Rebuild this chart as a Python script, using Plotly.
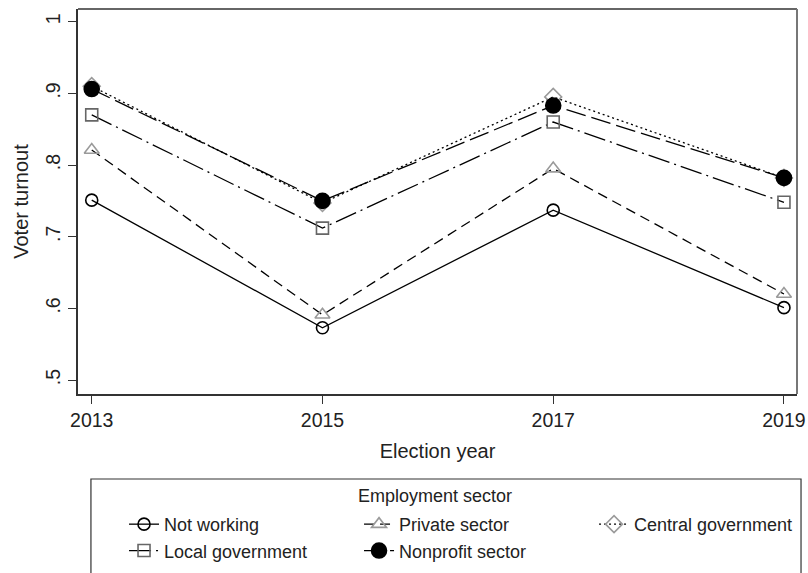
import plotly.graph_objects as go

years = [2013, 2015, 2017, 2019]
series_names = ["Not working", "Private sector", "Central government", "Local government", "Nonprofit sector"]
not_working = [0.751, 0.573, 0.737, 0.601]
private_sector = [0.821, 0.591, 0.795, 0.620]
central_gov = [0.910, 0.747, 0.895, 0.782]
local_gov = [0.870, 0.712, 0.860, 0.748]
nonprofit = [0.906, 0.750, 0.883, 0.782]
y_tick_vals = [0.5, 0.6, 0.7, 0.8, 0.9, 1.0]
y_tick_text = [".5", ".6", ".7", ".8", ".9", "1"]

FONT = "Liberation Sans, Arial, sans-serif"
TXT = "#222222"

styles = [
    dict(dash="solid", symbol="circle-open", mcolor="#000000", msize=12),
    dict(dash="10px,6px", symbol="triangle-up-open", mcolor="#9a9a9a", msize=13),
    dict(dash="2px,3px", symbol="diamond-open", mcolor="#9a9a9a", msize=13),
    dict(dash="22px,5px,2px,5px", symbol="square-open", mcolor="#666666", msize=12),
    dict(dash="20px,6px", symbol="circle", mcolor="#000000", msize=15),
]
values = [not_working, private_sector, central_gov, local_gov, nonprofit]

fig = go.Figure()
for name, vals, st in zip(series_names, values, styles):
    fig.add_trace(go.Scatter(
        x=years, y=vals, name=name, mode="lines+markers",
        line=dict(color="#000000", width=1.3, dash=st["dash"]),
        marker=dict(symbol=st["symbol"], size=st["msize"], color=st["mcolor"],
                    line=dict(color=st["mcolor"], width=1.6)),
    ))

fig.update_layout(
    width=808, height=573,
    margin=dict(l=78, r=11, t=9, b=179),
    paper_bgcolor="white", plot_bgcolor="white",
    font=dict(family=FONT, size=18, color=TXT),
    showlegend=True,
    legend=dict(
        orientation="h", xref="container", yref="container",
        x=0.1535, xanchor="left", y=0.117, yanchor="top",
        entrywidth=190, entrywidthmode="pixels",
        font=dict(family=FONT, size=18, color=TXT),
        bgcolor="rgba(0,0,0,0)", borderwidth=0,
    ),
    xaxis=dict(
        range=[2012.881, 2019.113], tickmode="array", tickvals=years,
        ticks="outside", ticklen=8, tickcolor="#333333", tickwidth=1.2,
        showline=True, linecolor="#333333", linewidth=2, showgrid=False, zeroline=False,
        automargin=False,
        tickfont=dict(family=FONT, size=19.5, color=TXT),
        title=dict(text="Election year", font=dict(family=FONT, size=20, color=TXT), standoff=14),
    ),
    yaxis=dict(
        range=[0.4805, 1.0177], tickmode="array", tickvals=y_tick_vals, ticktext=y_tick_text,
        tickangle=-90,
        ticks="outside", ticklen=8, tickcolor="#333333", tickwidth=1.2,
        showline=True, linecolor="#333333", linewidth=2, showgrid=False, zeroline=False,
        automargin=False,
        tickfont=dict(family=FONT, size=19.5, color=TXT),
        title=dict(text="Voter turnout", font=dict(family=FONT, size=20, color=TXT), standoff=8),
    ),
    shapes=[
        dict(type="line", xref="paper", yref="paper", x0=0, x1=1, y0=1, y1=1,
             line=dict(color="#666666", width=2)),
        dict(type="line", xref="paper", yref="paper", x0=1, x1=1, y0=0, y1=1,
             line=dict(color="#777777", width=2)),
        dict(type="rect", xref="paper", yref="paper", x0=0.018, x1=1.0056, y0=-0.53, y1=-0.2208,
             line=dict(color="#333333", width=1.2), fillcolor="rgba(0,0,0,0)"),
    ],
    annotations=[
        dict(text="Employment sector", xref="paper", yref="paper", x=0.4965, y=-0.265,
             xanchor="center", yanchor="middle", showarrow=False,
             font=dict(family=FONT, size=18, color=TXT)),
    ],
)

# remove the browser's default page margin so the 808x573 figure fills the window exactly
fig.write_html("out.html",
               config={"displayModeBar": False},
               post_script="document.body.style.margin='0';document.body.style.overflow='hidden';")
